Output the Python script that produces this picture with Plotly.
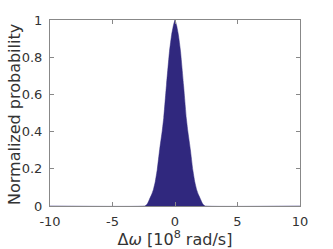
import plotly.graph_objects as go

# Data (symmetric peak), x in 10^8 rad/s
x_vals = [-10, -2.42, -2.25, -2.15, -2.05, -1.88, -1.73, -1.58, -1.42, -1.23, -1.02,
          -0.9, -0.68, -0.44, -0.27, -0.13, 0,
          0.13, 0.27, 0.44, 0.68, 0.9, 1.02, 1.23, 1.42, 1.58, 1.73, 1.88, 2.05,
          2.15, 2.25, 2.42, 10]
y_vals = [0, 0, 0.008, 0.02, 0.035, 0.06, 0.088, 0.13, 0.196, 0.303, 0.405,
          0.475, 0.653, 0.832, 0.921, 0.97, 1.0,
          0.97, 0.921, 0.832, 0.653, 0.475, 0.405, 0.303, 0.196, 0.13, 0.088, 0.06, 0.035,
          0.02, 0.008, 0, 0]

x_ticks = [-10, -5, 0, 5, 10]
x_ticktext = ["-10", "-5", "0", "5", "10"]
y_ticks = [0, 0.2, 0.4, 0.6, 0.8, 1]
y_ticktext = ["0", "0.2", "0.4", "0.6", "0.8", "1"]

fill_color = "#30287e"

fig = go.Figure()
fig.add_trace(go.Scatter(
    x=x_vals, y=y_vals, mode="lines",
    line=dict(color=fill_color, width=0.5, shape="spline", smoothing=0.3),
    fill="tozeroy", fillcolor=fill_color, hoverinfo="skip", showlegend=False))

axis_common = dict(
    showline=True, linecolor="#888888", linewidth=1, mirror="ticks",
    ticks="inside", ticklen=4, tickcolor="#888888", showgrid=False, zeroline=False,
    automargin=False,
    tickfont=dict(family="DejaVu Sans", size=13, color="#333333"),
)

fig.update_layout(
    width=333, height=249,
    margin=dict(l=50, r=33, t=20, b=43),
    paper_bgcolor="white", plot_bgcolor="white",
    font=dict(family="DejaVu Sans", color="#333333"),
    xaxis=dict(range=[-10, 10], tickvals=x_ticks, ticktext=x_ticktext, ticklabelstandoff=3,
               title=dict(text="Δ<i>ω</i> [10<sup>8</sup> rad/s]", font=dict(size=16), standoff=0),
               **axis_common),
    yaxis=dict(range=[0, 1], tickvals=y_ticks, ticktext=y_ticktext, ticklabelstandoff=4,
               **axis_common),
    annotations=[dict(text="Normalized probability", textangle=-90, showarrow=False,
                      xref="paper", yref="paper", x=0, y=0.5, xanchor="center", yanchor="middle",
                      xshift=-36, yshift=-2, font=dict(size=16, color="#333333"))],
)

fig.write_html("out.html", post_script="document.body.style.margin='0';",
               config={"displayModeBar": False})
